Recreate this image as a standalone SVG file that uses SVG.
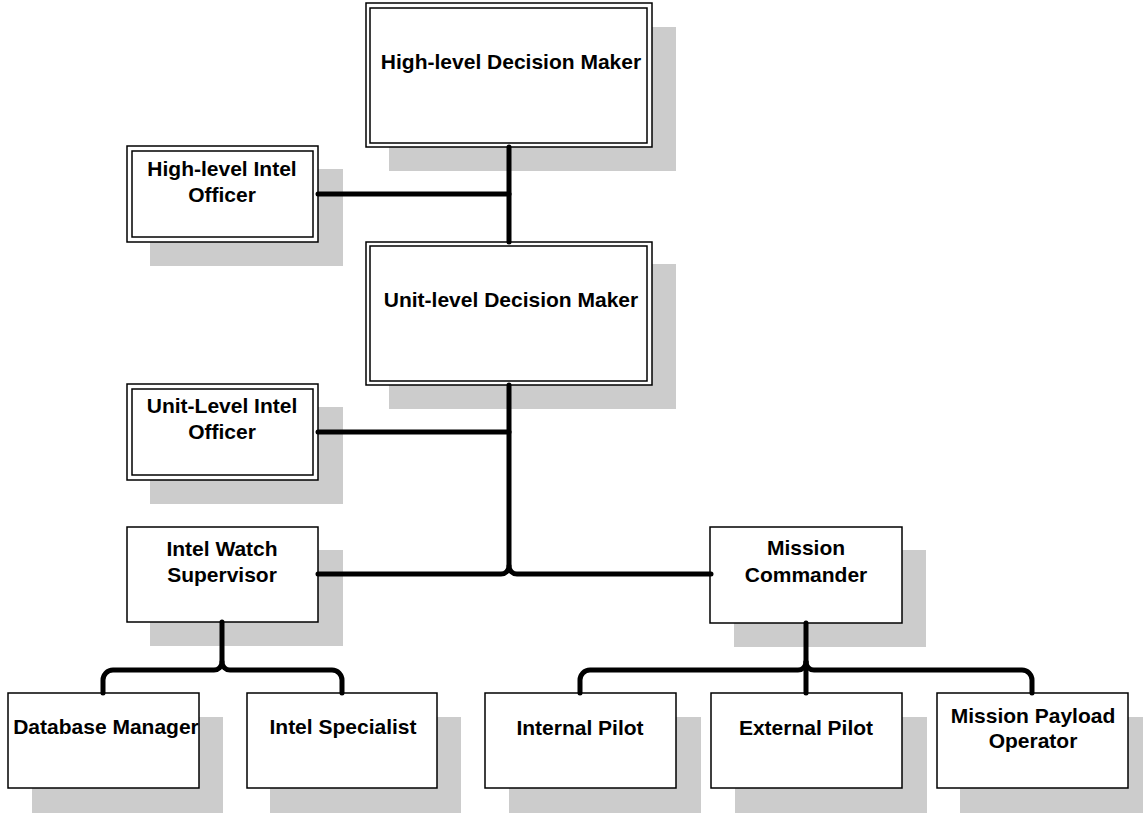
<svg xmlns="http://www.w3.org/2000/svg" width="1143" height="815" viewBox="0 0 1143 815">
  <style>
    .shadow { fill: #cccccc; }
    .box { fill: #ffffff; stroke: #000000; stroke-width: 1.5; }
    .inner { fill: none; stroke: #000000; stroke-width: 1.5; }
    .label { font-family: "Liberation Sans", Arial, sans-serif; font-weight: bold; font-size: 21px; fill: #000000; text-anchor: middle; }
    .link { fill: none; stroke: #000000; stroke-width: 5; stroke-linecap: round; stroke-linejoin: round; }
  </style>

  <g id="high-level-decision-maker">
    <rect class="shadow" x="389" y="27" width="287" height="144"/>
    <rect class="box" x="366" y="3" width="286" height="144"/>
    <rect class="inner" x="370" y="8" width="277" height="135"/>
    <text class="label" x="511" y="69">High-level Decision Maker</text>
  </g>

  <g id="high-level-intel-officer">
    <rect class="shadow" x="150" y="169" width="193" height="97"/>
    <rect class="box" x="127" y="146" width="191" height="96"/>
    <rect class="inner" x="132" y="151" width="181" height="86"/>
    <text class="label" x="222" y="176">High-level Intel</text>
    <text class="label" x="222" y="202">Officer</text>
  </g>

  <g id="unit-level-decision-maker">
    <rect class="shadow" x="389" y="264" width="287" height="145"/>
    <rect class="box" x="366" y="242" width="286" height="143"/>
    <rect class="inner" x="370" y="246" width="277" height="135"/>
    <text class="label" x="511" y="307">Unit-level Decision Maker</text>
  </g>

  <g id="unit-level-intel-officer">
    <rect class="shadow" x="150" y="407" width="193" height="97"/>
    <rect class="box" x="127" y="384" width="191" height="96"/>
    <rect class="inner" x="132" y="389" width="181" height="86"/>
    <text class="label" x="222" y="413">Unit-Level Intel</text>
    <text class="label" x="222" y="439">Officer</text>
  </g>

  <g id="intel-watch-supervisor">
    <rect class="shadow" x="150" y="550" width="193" height="96"/>
    <rect class="box" x="127" y="527" width="191" height="95"/>
    <text class="label" x="222" y="556">Intel Watch</text>
    <text class="label" x="222" y="582">Supervisor</text>
  </g>

  <g id="mission-commander">
    <rect class="shadow" x="734" y="550" width="192" height="97"/>
    <rect class="box" x="710" y="527" width="192" height="96"/>
    <text class="label" x="806" y="555">Mission</text>
    <text class="label" x="806" y="582">Commander</text>
  </g>

  <g id="database-manager">
    <rect class="shadow" x="32" y="717" width="191" height="96"/>
    <rect class="box" x="8" y="693" width="191" height="95"/>
    <text class="label" x="106" y="734">Database Manager</text>
  </g>

  <g id="intel-specialist">
    <rect class="shadow" x="270" y="717" width="191" height="96"/>
    <rect class="box" x="247" y="693" width="190" height="95"/>
    <text class="label" x="343" y="734">Intel Specialist</text>
  </g>

  <g id="internal-pilot">
    <rect class="shadow" x="509" y="717" width="192" height="96"/>
    <rect class="box" x="485" y="693" width="191" height="95"/>
    <text class="label" x="580" y="735">Internal Pilot</text>
  </g>

  <g id="external-pilot">
    <rect class="shadow" x="735" y="717" width="192" height="96"/>
    <rect class="box" x="711" y="693" width="191" height="95"/>
    <text class="label" x="806" y="735">External Pilot</text>
  </g>

  <g id="mission-payload-operator">
    <rect class="shadow" x="960" y="717" width="183" height="96"/>
    <rect class="box" x="937" y="693" width="191" height="95"/>
    <text class="label" x="1033" y="723">Mission Payload</text>
    <text class="label" x="1033" y="748">Operator</text>
  </g>

  <!-- connectors, drawn over the drop shadows -->
  <g id="connectors">
    <!-- high-level decision maker to unit-level decision maker -->
    <path class="link" d="M509,147 V242"/>
    <!-- high-level intel officer -->
    <path class="link" d="M318,194 H509"/>
    <!-- unit-level intel officer -->
    <path class="link" d="M318,432 H509"/>
    <!-- unit-level decision maker down to the two branches -->
    <path class="link" d="M509,385 V566 A8,8 0 0 1 501,574 H318"/>
    <path class="link" d="M509,566 A8,8 0 0 0 517,574 H711"/>
    <!-- intel watch supervisor branch -->
    <path class="link" d="M222,622 V662 A8,8 0 0 1 214,670 H113 A10,10 0 0 0 103,680 V693"/>
    <path class="link" d="M222,662 A8,8 0 0 0 230,670 H332 A10,10 0 0 1 342,680 V693"/>
    <!-- mission commander branch -->
    <path class="link" d="M806,623 V693"/>
    <path class="link" d="M806,662 A8,8 0 0 1 798,670 H590 A10,10 0 0 0 580,680 V693"/>
    <path class="link" d="M806,662 A8,8 0 0 0 814,670 H1022 A10,10 0 0 1 1032,680 V693"/>
  </g>
</svg>
